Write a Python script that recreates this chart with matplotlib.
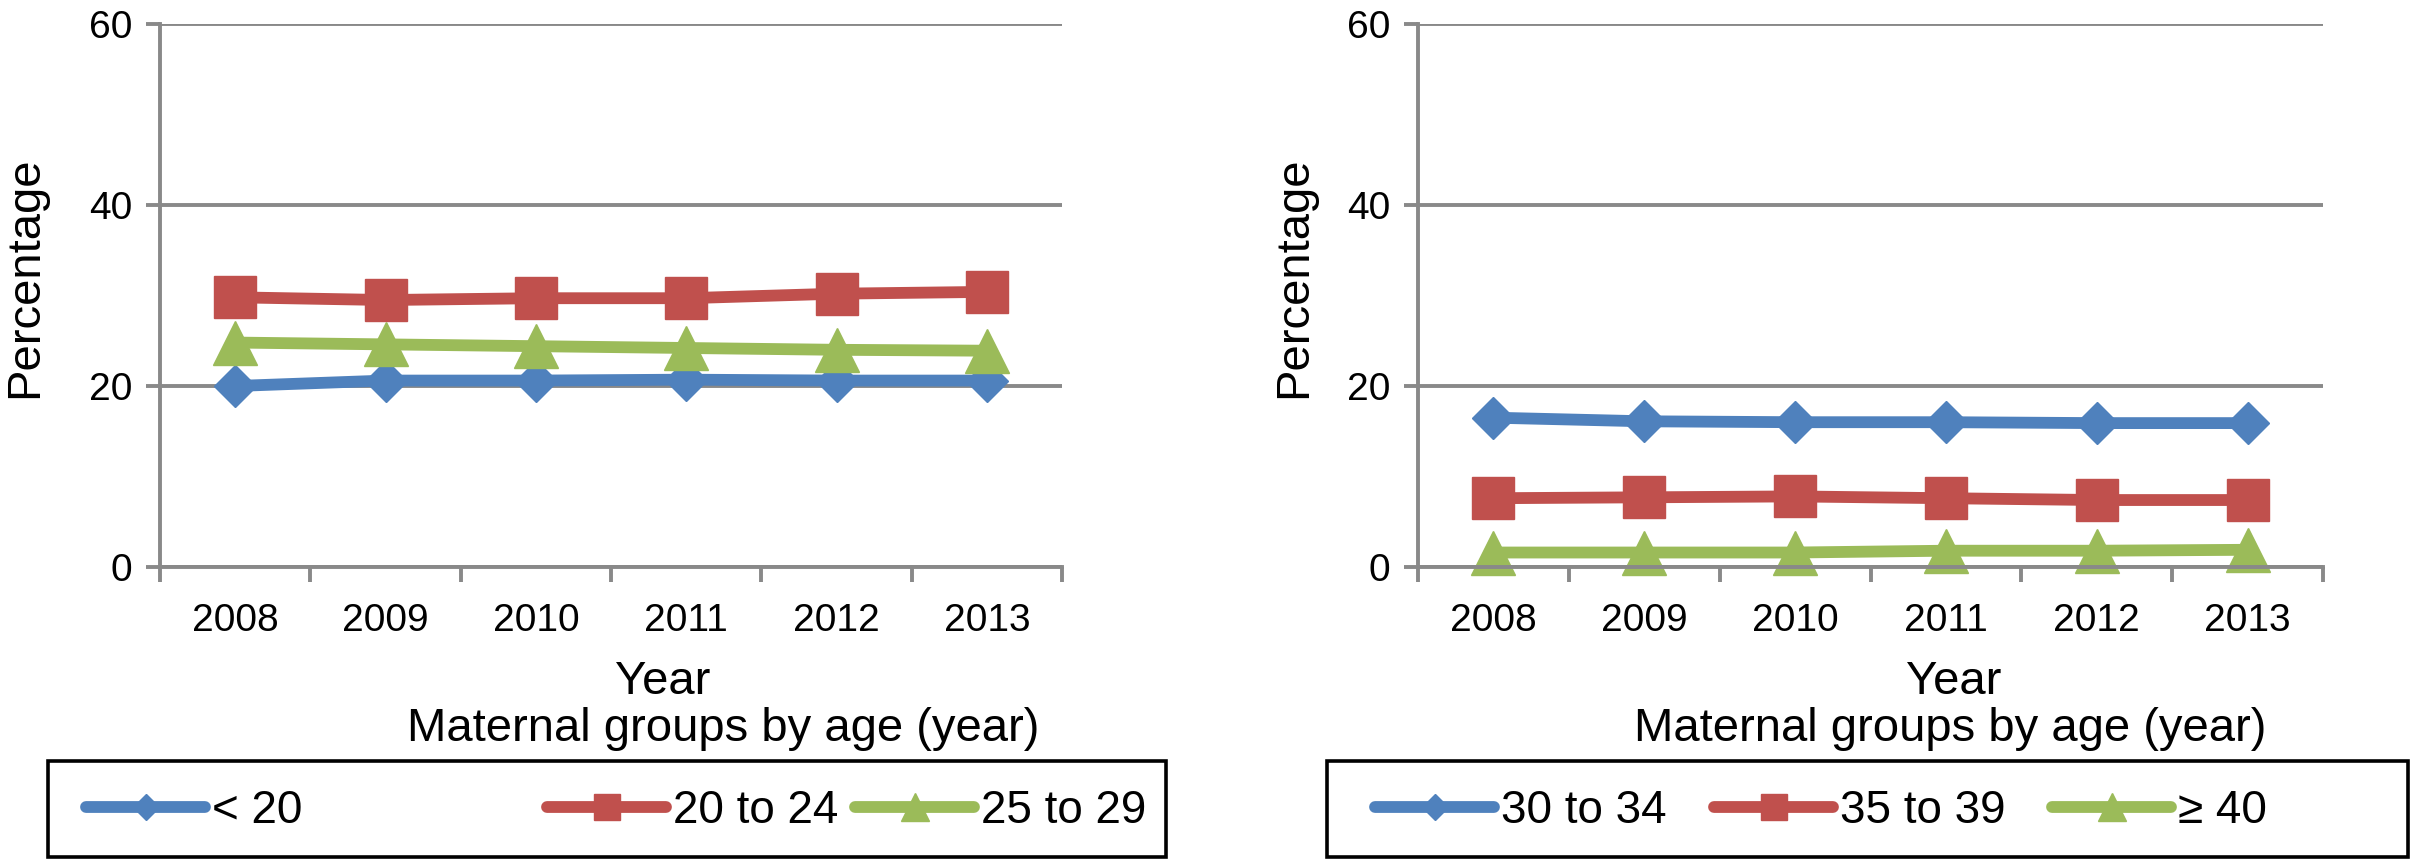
import matplotlib
matplotlib.use("Agg")
import matplotlib.pyplot as plt
from matplotlib.patches import Rectangle
import numpy as np

plt.rcParams["font.family"] = ["Liberation Sans", "DejaVu Sans"]

years = ["2008", "2009", "2010", "2011", "2012", "2013"]

# left panel: younger mothers
labels_left = ["< 20", "20 to 24", "25 to 29"]
under20 = [20.0, 20.6, 20.6, 20.7, 20.6, 20.6]
age20_24 = [29.8, 29.5, 29.7, 29.7, 30.2, 30.4]
age25_29 = [24.8, 24.6, 24.4, 24.2, 24.0, 23.9]

# right panel: older mothers
labels_right = ["30 to 34", "35 to 39", "\u2265 40"]
age30_34 = [16.5, 16.1, 16.0, 16.0, 15.9, 15.9]
age35_39 = [7.6, 7.7, 7.8, 7.6, 7.4, 7.4]
over40 = [1.6, 1.6, 1.6, 1.8, 1.8, 1.9]

yticks = [0, 20, 40, 60]

blue = "#4F81BD"
red = "#C0504D"
green = "#9BBB59"
grey = "#898989"

W, H = 2412, 861
fig = plt.figure(figsize=(W / 100, H / 100), dpi=100)


def fx(px):
    return px / W


def fy(py):
    return 1 - py / H


def draw_panel(left_px, right_px, series, names):
    ax = fig.add_axes([fx(left_px), fy(567), fx(right_px - left_px), (567 - 24) / H])
    x = np.arange(len(years)) + 0.5
    styles = [(blue, "D", 21), (red, "s", 30), (green, "^", 32)]
    lines = []
    for vals, (c, m, ms), name in zip(series, styles, names):
        ln, = ax.plot(x, vals, color=c, lw=8.5, marker=m, ms=ms, label=name,
                      solid_capstyle="round", clip_on=False)
        lines.append(ln)
    ax.set_xlim(0, len(years))
    ax.set_ylim(0, 60)
    ax.set_yticks(yticks)
    ax.set_yticklabels([str(v) for v in yticks], fontsize=28)
    ax.set_xticks(np.arange(len(years) + 1))
    ax.set_xticklabels([])
    ax.set_xticks(x, minor=True)
    ax.set_xticklabels(years, minor=True, fontsize=28)
    ax.tick_params(axis="x", which="major", length=11, width=2.8, color=grey, direction="out")
    ax.tick_params(axis="x", which="minor", length=0, pad=26)
    ax.tick_params(axis="y", length=10, width=2.8, color=grey, pad=10)
    ax.yaxis.grid(True, color=grey, lw=2.8)
    ax.set_axisbelow(True)
    for s in ["top", "right"]:
        ax.spines[s].set_visible(False)
    for s in ["left", "bottom"]:
        ax.spines[s].set_color(grey)
        ax.spines[s].set_linewidth(2.8)
    return lines


lines_l = draw_panel(160, 1062, [under20, age20_24, age25_29], labels_left)
lines_r = draw_panel(1418, 2323, [age30_34, age35_39, over40], labels_right)

# axis titles placed like the original layout
for cx in [25, 1294]:
    fig.text(fx(cx), fy(277), "Percentage", rotation=90, ha="center", va="center", fontsize=34)
for cx_year, cx_mat in [(663, 723), (1954, 1950)]:
    fig.text(fx(cx_year), fy(694), "Year", ha="center", va="baseline", fontsize=34)
    fig.text(fx(cx_mat), fy(741), "Maternal groups by age (year)", ha="center",
             va="baseline", fontsize=34)

# legend boxes
for x0, x1 in [(48, 1166), (1327, 2408)]:
    fig.add_artist(Rectangle((fx(x0), fy(857)), fx(x1 - x0), (857 - 761) / H,
                             transform=fig.transFigure, fill=False, ec="black", lw=2.6))

legend_x = [(lines_l, [86, 547, 855]), (lines_r, [1375, 1714, 2052])]
for lines, xs in legend_x:
    for ln, lx in zip(lines, xs):
        fig.legend(handles=[ln], labels=[ln.get_label()], loc="center left",
                   bbox_to_anchor=(fx(lx), fy(811)), frameon=False, fontsize=33,
                   handlelength=2.6, handletextpad=0.15, borderpad=0,
                   borderaxespad=0, markerscale=0.62)

fig.savefig("out.png", dpi=100)
